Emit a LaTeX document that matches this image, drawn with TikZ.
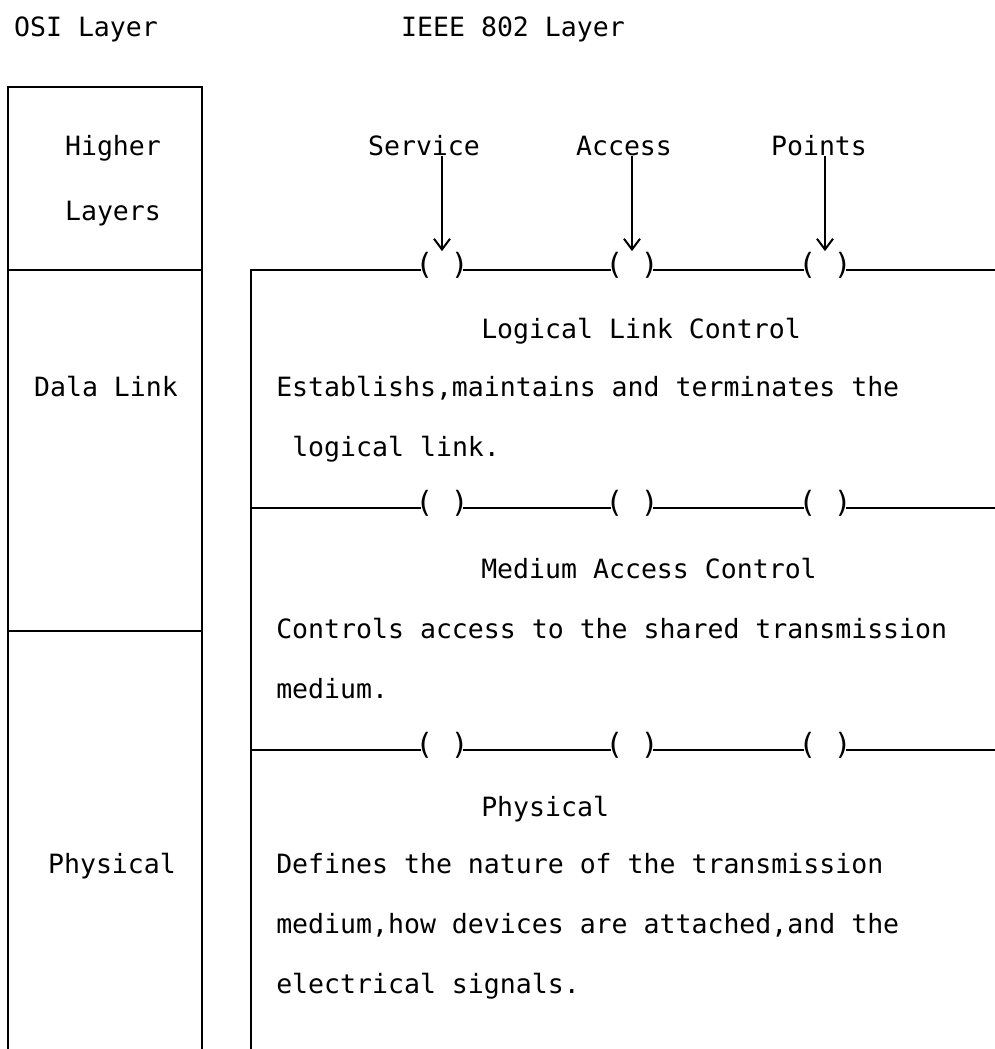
\documentclass[tikz,border=0pt]{standalone}
\usepackage{fontspec}
\setmonofont{DejaVu Sans Mono}
\usetikzlibrary{arrows.meta}

\begin{document}
\begin{tikzpicture}[x=0.75pt,y=0.75pt,yscale=-1,xscale=1,
    every node/.style={font=\ttfamily\fontsize{19.9}{22}\selectfont, inner sep=0pt, text height=0.73em, text depth=0pt},
    layer/.style={line width=1.6pt},
    sap/.style={font=\ttfamily\fontsize{22}{24}\selectfont, outer xsep=-4pt, outer ysep=10.5pt},
    sapto/.style={line width=1.5pt, -{Straight Barb[length=8pt,width=12pt]}}]
        \useasboundingbox (0,0) rectangle (995,1049);
        % OSI side
        \draw [layer] (8,1049) -- (8,87) -- (202,87) -- (202,1049) ;
        \draw [layer] (8,270) -- (202,270) ;
        \draw [layer] (8,631) -- (202,631) ;
        \node (osi) at (86,32) {OSI Layer};
        \node (higher) at (113,151) {Higher};
        \node (layers) at (113,216) {Layers};
        \node (datalink) at (106,392) {Dala Link};
        \node (physical) at (112,869) {Physical};
        % IEEE 802 side
        \node (ieee) at (513,32) {IEEE 802 Layer};
        \node (service) at (424,151) {Service};
        \node (access) at (624,151) {Access};
        \node (points) at (819,151) {Points};
        \node [sap] (sapA1) at (442,270) {( )};
        \node [sap] (sapA2) at (632,270) {( )};
        \node [sap] (sapA3) at (825,270) {( )};
        \node [sap] (sapB1) at (442,508) {( )};
        \node [sap] (sapB2) at (632,508) {( )};
        \node [sap] (sapB3) at (825,508) {( )};
        \node [sap] (sapC1) at (442,750) {( )};
        \node [sap] (sapC2) at (632,750) {( )};
        \node [sap] (sapC3) at (825,750) {( )};
        \coordinate (llcL) at (251,270);
        \coordinate (llcR) at (995,270);
        \coordinate (macL) at (251,508);
        \coordinate (macR) at (995,508);
        \coordinate (phyL) at (251,750);
        \coordinate (phyR) at (995,750);
        \coordinate (baseL) at (251,1049);
        \draw [layer] (baseL) -- (llcL) -- (sapA1) -- (sapA2) -- (sapA3) -- (llcR) ;
        \draw [layer] (macL) -- (sapB1) -- (sapB2) -- (sapB3) -- (macR) ;
        \draw [layer] (phyL) -- (sapC1) -- (sapC2) -- (sapC3) -- (phyR) ;
        \draw [sapto] (service.south -| sapA1) -- (sapA1.north) ;
        \draw [sapto] (access.south -| sapA2) -- (sapA2.north) ;
        \draw [sapto] (points.south -| sapA3) -- (sapA3.north) ;
        \node [anchor=west] (llc) at (481,334) {Logical Link Control};
        \node [anchor=west] (llctxt) at (276,392) {Establishs,maintains and terminates the};
        \node [anchor=west] (llctxtb) at (292,452) {logical link.};
        \node [anchor=west] (mac) at (481,574) {Medium Access Control};
        \node [anchor=west] (mactxt) at (276,634) {Controls access to the shared transmission};
        \node [anchor=west] (mactxtb) at (276,694) {medium.};
        \node [anchor=west] (phy) at (481,812) {Physical};
        \node [anchor=west] (phytxt) at (276,869) {Defines the nature of the transmission};
        \node [anchor=west] (phytxtb) at (276,929) {medium,how devices are attached,and the};
        \node [anchor=west] (phytxtc) at (276,989) {electrical signals.};
    \end{tikzpicture}
\end{document}
